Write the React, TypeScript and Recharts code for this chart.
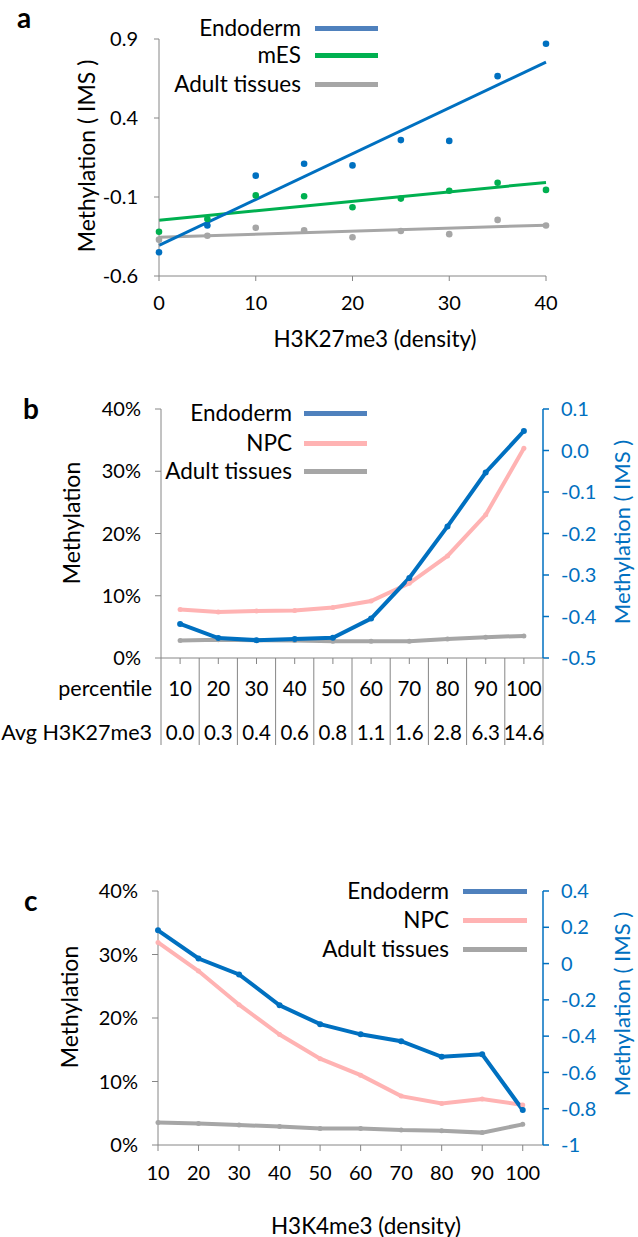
import React from 'react';
import { ComposedChart, LineChart, Line, Scatter, XAxis, YAxis } from 'recharts';

// panel a: H3K27me3 density vs methylation (IMS)
const densityA = [0, 5, 10, 15, 20, 25, 30, 35, 40];
const endodermA = [-0.45, -0.28, 0.035, 0.11, 0.1, 0.26, 0.255, 0.665, 0.87];
const mesA = [-0.32, -0.24, -0.09, -0.095, -0.165, -0.11, -0.06, -0.01, -0.055];
const adultA = [-0.37, -0.345, -0.295, -0.31, -0.355, -0.315, -0.335, -0.245, -0.28];

// panel b: H3K27me3 percentiles
const percentiles = [10, 20, 30, 40, 50, 60, 70, 80, 90, 100];
const avgH3K27me3 = ['0.0', '0.3', '0.4', '0.6', '0.8', '1.1', '1.6', '2.8', '6.3', '14.6'];
const endodermB = [-0.418, -0.452, -0.457, -0.454, -0.451, -0.405, -0.307, -0.183, -0.053, 0.047];
const npcB = [7.8, 7.4, 7.55, 7.65, 8.1, 9.15, 12.0, 16.4, 23.0, 33.7];
const adultB = [2.8, 2.95, 2.85, 2.8, 2.7, 2.7, 2.7, 3.05, 3.35, 3.55];

// panel c: H3K4me3 density
const densityC = [10, 20, 30, 40, 50, 60, 70, 80, 90, 100];
const endodermC = [0.183, 0.028, -0.06, -0.23, -0.334, -0.39, -0.428, -0.514, -0.5, -0.807];
const npcC = [31.9, 27.4, 22.1, 17.4, 13.6, 11.0, 7.7, 6.55, 7.25, 6.3];
const adultC = [3.55, 3.4, 3.15, 2.9, 2.6, 2.6, 2.35, 2.25, 1.95, 3.25];

const BLUE = '#0070C0';
const BLUE_LEG = '#4F81BD';
const GREEN = '#00B050';
const GRAY = '#A6A6A6';
const PINK = '#FFB3B3';
const AXIS = '#868686';

const toPoints = (xs: number[], ys: number[]) => xs.map((x, i) => ({ x, y: ys[i] }));

// least squares trend line, evaluated at the ends of the x range
const fitLine = (xs: number[], ys: number[]) => {
  const n = xs.length;
  const mx = xs.reduce((a, b) => a + b, 0) / n;
  const my = ys.reduce((a, b) => a + b, 0) / n;
  let sxy = 0;
  let sxx = 0;
  xs.forEach((x, i) => {
    sxy += (x - mx) * (ys[i] - my);
    sxx += (x - mx) * (x - mx);
  });
  const slope = sxy / sxx;
  const b0 = my - slope * mx;
  return [xs[0], xs[n - 1]].map((x) => ({ x, y: b0 + slope * x }));
};

const rowsB = percentiles.map((p, i) => ({ p, endo: endodermB[i], npc: npcB[i], adult: adultB[i] }));
const rowsC = densityC.map((d, i) => ({ d, endo: endodermC[i], npc: npcC[i], adult: adultC[i] }));

const dot = (color: string, r: number) => (p: any) => <circle cx={p.cx} cy={p.cy} r={r} fill={color} />;

const TICK_FS = 20;
const tickStyle = { fill: '#000', fontSize: TICK_FS };

// half width of one percentile cell in panel b (plot 382px over a domain of 100)
const CELL_HALF = (382 / 100) * 5;

const TableTick = (props: any) => {
  const { x, y, payload, index } = props;
  const axisY = y - 6;
  const left = x - CELL_HALF;
  const right = x + CELL_HALF;
  return (
    <g>
      <line x1={left} x2={left} y1={axisY} y2={axisY + 87} stroke={AXIS} strokeWidth={1} />
      {index === percentiles.length - 1 && (
        <line x1={right} x2={right} y1={axisY} y2={axisY + 87} stroke={AXIS} strokeWidth={1} />
      )}
      <text x={x} y={axisY + 30} textAnchor="middle" dominantBaseline="central" fontSize={20.5} fill="#000">
        {payload.value}
      </text>
      <text x={x} y={axisY + 74} textAnchor="middle" dominantBaseline="central" fontSize={20.5} fill="#000">
        {avgH3K27me3[index]}
      </text>
      {index === 0 && (
        <>
          <text x={left - 9} y={axisY + 30} textAnchor="end" dominantBaseline="central" fontSize={21.5} fill="#000">
            percentile
          </text>
          <text x={left - 9} y={axisY + 74} textAnchor="end" dominantBaseline="central" fontSize={21.5} fill="#000">
            Avg H3K27me3
          </text>
        </>
      )}
    </g>
  );
};

const abs = (style: React.CSSProperties): React.CSSProperties => ({ position: 'absolute', whiteSpace: 'nowrap', ...style });

const VTitle = ({ cx, cy, text, color = '#000', size = 23 }: { cx: number; cy: number; text: string; color?: string; size?: number }) => (
  <div style={abs({ left: cx, top: cy, transform: 'translate(-50%, -50%) rotate(-90deg)', fontSize: size, lineHeight: '26px', color })}>
    {text}
  </div>
);

const HTitle = ({ cx, cy, text }: { cx: number; cy: number; text: string }) => (
  <div style={abs({ left: cx, top: cy, transform: 'translate(-50%, -50%)', fontSize: 22.5 })}>{text}</div>
);

const Letter = ({ x, y, text }: { x: number; y: number; text: string }) => (
  <div style={abs({ left: x, top: y, transform: 'translateY(-50%)', fontSize: 28, fontWeight: 700 })}>{text}</div>
);

interface LegendItem {
  label: string;
  color: string;
  y: number;
}

const Legend = ({ items, textRight, x1, x2 }: { items: LegendItem[]; textRight: number; x1: number; x2: number }) => (
  <>
    {items.map((it) => (
      <React.Fragment key={it.label}>
        <div style={abs({ right: 638 - textRight, top: it.y, transform: 'translateY(-50%)', fontSize: 22.5, lineHeight: '26px' })}>
          {it.label}
        </div>
        <div style={abs({ left: x1, top: it.y - 2.5, width: x2 - x1, height: 5, background: it.color })} />
      </React.Fragment>
    ))}
  </>
);

const App = () => {
  return (
    <div
      style={{
        position: 'absolute',
        top: 0,
        left: 0,
        width: 638,
        height: 1237,
        background: '#fff',
        fontFamily: 'Lato, "Open Sans", sans-serif',
        color: '#000',
        overflow: 'hidden',
      }}
    >
      {/* a */}
      <div style={{ position: 'absolute', top: 0, left: 0 }}>
        <ComposedChart width={638} height={360} margin={{ top: 39, right: 92, bottom: 54, left: 99 }}>
          <XAxis
            type="number"
            dataKey="x"
            domain={[0, 40]}
            ticks={[0, 10, 20, 30, 40]}
            interval={0}
            height={30}
            tickSize={5}
            tickMargin={15}
            axisLine={{ stroke: AXIS }}
            tickLine={{ stroke: AXIS }}
            tick={tickStyle}
          />
          <YAxis
            type="number"
            dataKey="y"
            domain={[-0.6, 0.9]}
            ticks={[-0.6, -0.1, 0.4, 0.9]}
            interval={0}
            width={60}
            tickSize={5}
            tickMargin={16}
            tickFormatter={(v: number) => v.toFixed(1)}
            axisLine={{ stroke: AXIS }}
            tickLine={{ stroke: AXIS }}
            tick={tickStyle}
          />
          <Line data={fitLine(densityA, adultA)} dataKey="y" stroke={GRAY} strokeWidth={3} dot={false} isAnimationActive={false} />
          <Line data={fitLine(densityA, mesA)} dataKey="y" stroke={GREEN} strokeWidth={3} dot={false} isAnimationActive={false} />
          <Line data={fitLine(densityA, endodermA)} dataKey="y" stroke={BLUE} strokeWidth={3} dot={false} isAnimationActive={false} />
          <Scatter data={toPoints(densityA, adultA)} dataKey="y" fill={GRAY} shape={dot(GRAY, 3.3)} isAnimationActive={false} />
          <Scatter data={toPoints(densityA, mesA)} dataKey="y" fill={GREEN} shape={dot(GREEN, 3.3)} isAnimationActive={false} />
          <Scatter data={toPoints(densityA, endodermA)} dataKey="y" fill={BLUE} shape={dot(BLUE, 3.3)} isAnimationActive={false} />
        </ComposedChart>
      </div>
      <Letter x={17} y={17} text="a" />
      <VTitle cx={86} cy={156} text="Methylation ( IMS )" />
      <HTitle cx={375} cy={338} text="H3K27me3 (density)" />
      <Legend
        textRight={301}
        x1={315}
        x2={378}
        items={[
          { label: 'Endoderm', color: BLUE_LEG, y: 28 },
          { label: 'mES', color: GREEN, y: 55 },
          { label: 'Adult tissues', color: GRAY, y: 84 },
        ]}
      />

      {/* b */}
      <div style={{ position: 'absolute', top: 380, left: 0 }}>
        <LineChart width={638} height={400} data={rowsB} margin={{ top: 29, right: 25, bottom: 22, left: 101 }}>
          <XAxis
            type="number"
            dataKey="p"
            domain={[5, 105]}
            ticks={percentiles}
            interval={0}
            height={100}
            tickSize={6}
            tickMargin={0}
            axisLine={{ stroke: AXIS }}
            tickLine={{ stroke: AXIS }}
            tick={<TableTick />}
          />
          <YAxis
            yAxisId="left"
            domain={[0, 40]}
            ticks={[0, 10, 20, 30, 40]}
            interval={0}
            width={60}
            tickSize={6}
            tickMargin={14}
            tickFormatter={(v: number) => `${v}%`}
            axisLine={{ stroke: AXIS }}
            tickLine={{ stroke: AXIS }}
            tick={tickStyle}
          />
          <YAxis
            yAxisId="right"
            orientation="right"
            domain={[-0.5, 0.1]}
            ticks={[-0.5, -0.4, -0.3, -0.2, -0.1, 0, 0.1]}
            interval={0}
            width={70}
            tickSize={6}
            tickMargin={12}
            tickFormatter={(v: number) => v.toFixed(1)}
            axisLine={{ stroke: BLUE, strokeWidth: 1.5 }}
            tickLine={{ stroke: BLUE, strokeWidth: 1.5 }}
            tick={{ fill: BLUE, fontSize: TICK_FS }}
          />
          <Line yAxisId="left" dataKey="adult" stroke={GRAY} strokeWidth={4} dot={dot(GRAY, 2.5)} isAnimationActive={false} />
          <Line yAxisId="left" dataKey="npc" stroke={PINK} strokeWidth={4} dot={dot(PINK, 2.5)} isAnimationActive={false} />
          <Line yAxisId="right" dataKey="endo" stroke={BLUE} strokeWidth={4} dot={dot(BLUE, 3)} isAnimationActive={false} />
        </LineChart>
      </div>
      <Letter x={23} y={408} text="b" />
      <VTitle cx={71} cy={523} text="Methylation" />
      <VTitle cx={622} cy={532} text="Methylation ( IMS )" color={BLUE} size={22} />
      <Legend
        textRight={292}
        x1={304}
        x2={367}
        items={[
          { label: 'Endoderm', color: BLUE_LEG, y: 413 },
          { label: 'NPC', color: PINK, y: 443 },
          { label: 'Adult tissues', color: GRAY, y: 471 },
        ]}
      />

      {/* c */}
      <div style={{ position: 'absolute', top: 860, left: 0 }}>
        <LineChart width={638} height={340} data={rowsC} margin={{ top: 31, right: 25, bottom: 15, left: 98 }}>
          <XAxis
            type="number"
            dataKey="d"
            domain={[10, 105]}
            ticks={densityC}
            interval={0}
            height={40}
            tickSize={6}
            tickMargin={15}
            axisLine={{ stroke: AXIS }}
            tickLine={{ stroke: AXIS }}
            tick={tickStyle}
          />
          <YAxis
            yAxisId="left"
            domain={[0, 40]}
            ticks={[0, 10, 20, 30, 40]}
            interval={0}
            width={60}
            tickSize={6}
            tickMargin={14}
            tickFormatter={(v: number) => `${v}%`}
            axisLine={{ stroke: AXIS }}
            tickLine={{ stroke: AXIS }}
            tick={tickStyle}
          />
          <YAxis
            yAxisId="right"
            orientation="right"
            domain={[-1, 0.4]}
            ticks={[-1, -0.8, -0.6, -0.4, -0.2, 0, 0.2, 0.4]}
            interval={0}
            width={70}
            tickSize={6}
            tickMargin={12}
            tickFormatter={(v: number) => String(Number(v.toFixed(1)))}
            axisLine={{ stroke: BLUE, strokeWidth: 1.5 }}
            tickLine={{ stroke: BLUE, strokeWidth: 1.5 }}
            tick={{ fill: BLUE, fontSize: TICK_FS }}
          />
          <Line yAxisId="left" dataKey="adult" stroke={GRAY} strokeWidth={4} dot={dot(GRAY, 2.5)} isAnimationActive={false} />
          <Line yAxisId="left" dataKey="npc" stroke={PINK} strokeWidth={4} dot={dot(PINK, 2.5)} isAnimationActive={false} />
          <Line yAxisId="right" dataKey="endo" stroke={BLUE} strokeWidth={4} dot={dot(BLUE, 3)} isAnimationActive={false} />
        </LineChart>
      </div>
      <Letter x={24} y={900} text="c" />
      <VTitle cx={69} cy={1007} text="Methylation" />
      <VTitle cx={622} cy={1004} text="Methylation ( IMS )" color={BLUE} size={22} />
      <HTitle cx={366} cy={1225} text="H3K4me3 (density)" />
      <Legend
        textRight={449}
        x1={463}
        x2={527}
        items={[
          { label: 'Endoderm', color: BLUE_LEG, y: 891 },
          { label: 'NPC', color: PINK, y: 920 },
          { label: 'Adult tissues', color: GRAY, y: 949 },
        ]}
      />
    </div>
  );
};

export default App;
